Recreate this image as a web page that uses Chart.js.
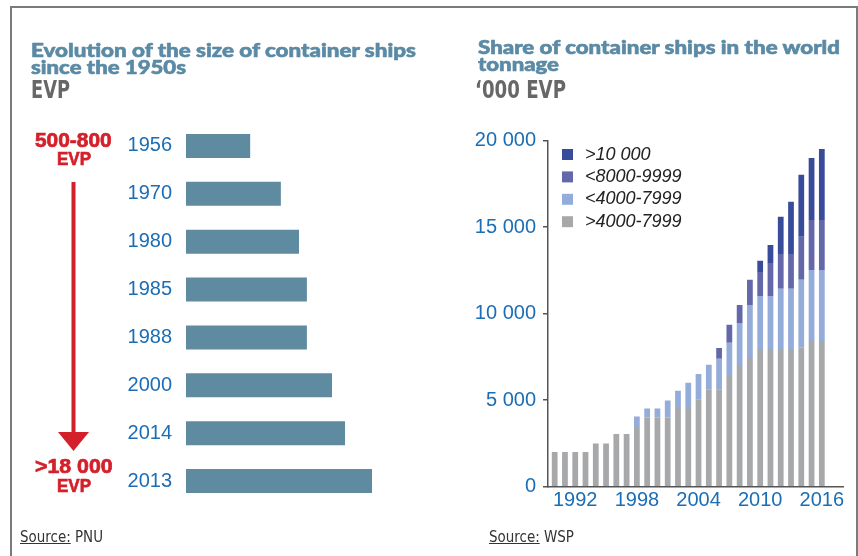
<!DOCTYPE html>
<html><head><meta charset="utf-8">
<script src="https://cdn.jsdelivr.net/npm/chart.js@4.4.1/dist/chart.umd.min.js"></script>
<style>
html,body{margin:0;padding:0;background:#fff;width:858px;height:556px;overflow:hidden;}
canvas{position:absolute;left:0;top:0;}
.t{position:absolute;left:0;top:0;white-space:nowrap;transform-origin:0 0;line-height:1;}
.mk{display:inline-block;width:0;height:0;vertical-align:baseline;}
#frame{position:absolute;left:10px;top:6px;width:844px;height:600px;border:2px solid #7b7b7b;border-bottom:none;}
</style></head>
<body>
<div id="frame"></div>
<canvas id="left" width="858" height="556"></canvas>
<canvas id="right" width="858" height="556"></canvas>
<div id="texts"></div>
<script>
// ---------- Data: left chart (ship size evolution) ----------
const shipYears = ['1956', '1970', '1980', '1985', '1988', '2000', '2014', '2013'];
const shipSizes = [138, 204, 243, 260, 260, 314, 342, 400];

// ---------- Data: right chart (world tonnage, '000 EVP) ----------
const years = [1990,1991,1992,1993,1994,1995,1996,1997,1998,1999,2000,2001,2002,2003,2004,2005,2006,2007,2008,2009,2010,2011,2012,2013,2014,2015,2016];
const seriesGrey  = [2000,2000,2000,2000,2500,2500,3050,3050,3450,4000,4000,4000,4600,4600,5050,5600,5600,6400,6980,7440,7960,7960,7960,7960,8020,8420,8420];
const seriesLight = [0,0,0,0,0,0,0,0,600,520,520,980,940,1400,1460,1440,1790,1910,2480,3060,3060,3060,3470,3470,3930,4100,4100];
const seriesMid   = [0,0,0,0,0,0,0,0,0,0,0,0,0,0,0,0,620,1040,1040,1450,1390,1910,2020,2020,2490,2890,2890];
const seriesDark  = [0,0,0,0,0,0,0,0,0,0,0,0,0,0,0,0,0,0,0,0,640,1040,2140,3010,3580,3580,4100];
const seriesLabels = ['>4000-7999', '<4000-7999', '<8000-9999', '>10 000'];
const yTicks = [0, 5000, 10000, 15000, 20000];
const xTickYears = [1992, 1998, 2004, 2010, 2016];

const TICKFONT = "'Liberation Sans', Arial, sans-serif";
const NARROW = "'Liberation Sans Narrow','DejaVu Sans Condensed','Liberation Sans',sans-serif";
const BLUE = '#1b6db5';
const RED = '#d4202a';

// ---------- Left chart ----------
const arrowPlugin = {
  id: 'arrow',
  afterDraw(chart) {
    const c = chart.ctx;
    c.save();
    c.strokeStyle = RED; c.fillStyle = RED; c.lineWidth = 4;
    c.beginPath(); c.moveTo(73.5, 182); c.lineTo(73.5, 433); c.stroke();
    c.beginPath(); c.moveTo(58, 432); c.lineTo(89, 432); c.lineTo(73.5, 451); c.closePath(); c.fill();
    c.restore();
  }
};

Chart.defaults.animation = false;

new Chart(document.getElementById('left'), {
  type: 'bar',
  data: { labels: shipYears, datasets: [{ data: shipSizes, backgroundColor: '#5f8ba1', barPercentage: 0.5, categoryPercentage: 1 }] },
  options: {
    indexAxis: 'y', responsive: false, events: [],
    layout: { padding: { left: 66, right: 486, top: 122, bottom: 51 } },
    plugins: { legend: { display: false }, tooltip: { enabled: false } },
    scales: {
      x: { display: false, min: 0, max: 400 },
      y: {
        afterFit: s => { s.width = 120; },
        grid: { display: false, drawTicks: false }, border: { display: false },
        ticks: { color: BLUE, font: { family: TICKFONT, size: 20 }, padding: 14 }
      }
    }
  },
  plugins: [arrowPlugin]
});

// ---------- Right chart ----------
const colors = ['#a7a8aa', '#94acda', '#6467a9', '#394c99'];
const seriesData = [seriesGrey, seriesLight, seriesMid, seriesDark];

const legendPlugin = {
  id: 'customLegend',
  afterDraw(chart) {
    const c = chart.ctx;
    c.save();
    const ds = chart.data.datasets.slice().reverse();
    ds.forEach((d, i) => {
      const y = 149 + i * 22.4;
      c.fillStyle = d.backgroundColor;
      c.fillRect(562, y, 11, 11);
      c.fillStyle = '#222';
      c.font = "italic 18px 'Liberation Sans', Arial, sans-serif";
      c.textBaseline = 'alphabetic';
      c.fillText(d.label, 585, y + 10.5);
    });
    c.restore();
  }
};

new Chart(document.getElementById('right'), {
  type: 'bar',
  data: {
    datasets: seriesData.map((arr, k) => ({
      label: seriesLabels[k],
      data: years.map((yr, i) => ({ x: yr, y: arr[i] })),
      backgroundColor: colors[k],
      barPercentage: 0.56, categoryPercentage: 1
    }))
  },
  options: {
    responsive: false, events: [],
    layout: { padding: { left: 448, right: 15, top: 140.5, bottom: 39.3 } },
    plugins: { legend: { display: false }, tooltip: { enabled: false } },
    scales: {
      x: {
        type: 'linear', stacked: true, bounds: 'data', offset: false, min: 1989.35, max: 2018.06,
        afterFit: s => { s.height = 30; },
        afterBuildTicks: s => { s.ticks = xTickYears.map(v => ({ value: v })); },
        grid: { display: false, drawTicks: false, offset: false },
        border: { color: '#555', width: 1.5 },
        ticks: { color: BLUE, font: { family: TICKFONT, size: 20 }, padding: 2, callback: v => String(v) }
      },
      y: {
        stacked: true, min: 0, max: 20000,
        afterFit: s => { s.width = 100; },
        afterBuildTicks: s => { s.ticks = yTicks.map(v => ({ value: v })); },
        grid: { drawOnChartArea: false, tickLength: 5, color: '#555', lineWidth: 1.5 },
        border: { color: '#555', width: 1.5 },
        ticks: { color: BLUE, font: { family: TICKFONT, size: 20 }, padding: 7,
          callback: v => v === 0 ? '0' : (v / 1000) + ' 000' }
      }
    }
  },
  plugins: [legendPlugin]
});

// ---------- HTML text (titles, annotations, sources) ----------
const TITLE_FONT = "900 19px Lato, 'Open Sans', sans-serif";
const REDFONT = "900 21px 'Liberation Sans', Arial, sans-serif";
const texts = [
  { html: 'Evolution of the size of container ships', x: 30.7, y: 56.7, w: 385, font: TITLE_FONT, color: '#5b8aa5', stroke: 0.6 },
  { html: 'since the 1950s', x: 30.7, y: 74.3, w: 155, font: TITLE_FONT, color: '#5b8aa5', stroke: 0.6 },
  { html: 'EVP', x: 30.7, y: 98.3, w: 39, font: "bold 24px " + NARROW, color: '#676767' },
  { html: 'Share of container ships in the world', x: 477.7, y: 54, w: 362, font: TITLE_FONT, color: '#5b8aa5', stroke: 0.6 },
  { html: 'tonnage', x: 477.7, y: 70.7, w: 81, font: TITLE_FONT, color: '#5b8aa5', stroke: 0.6 },
  { html: '\u2018000 EVP', x: 475, y: 98.3, w: 91, font: "bold 24px " + NARROW, color: '#676767' },
  { html: '500-800', x: 73.4, y: 146.7, w: 76.7, font: REDFONT, color: RED, center: true, stroke: 0.7 },
  { html: 'EVP', x: 73.7, y: 165, w: 34, font: "900 19px 'Liberation Sans', Arial, sans-serif", color: RED, center: true, stroke: 0.7 },
  { html: '&gt;18 000', x: 73.8, y: 472.7, w: 77.7, font: REDFONT, color: RED, center: true, stroke: 0.7 },
  { html: 'EVP', x: 73.7, y: 491.7, w: 34, font: "900 19px 'Liberation Sans', Arial, sans-serif", color: RED, center: true, stroke: 0.7 },
  { html: '<u>Source:</u> PNU', x: 20, y: 542, w: 83, font: "15px " + NARROW, color: '#333' },
  { html: '<u>Source:</u> WSP', x: 489, y: 542, w: 85, font: "15px " + NARROW, color: '#333' }
];
const holder = document.getElementById('texts');
texts.forEach(s => {
  const d = document.createElement('div');
  d.className = 't';
  d.style.font = s.font; d.style.color = s.color;
  if (s.stroke) d.style.webkitTextStroke = s.stroke + 'px ' + s.color;
  d.innerHTML = s.html;
  const mk = document.createElement('span'); mk.className = 'mk';
  d.appendChild(mk);
  holder.appendChild(d);
  const w = d.getBoundingClientRect().width;
  const base = mk.offsetTop;
  const sx = s.w / w;
  d.style.left = (s.center ? s.x - s.w / 2 : s.x) + 'px';
  d.style.top = (s.y - base) + 'px';
  d.style.transform = 'scaleX(' + sx.toFixed(4) + ')';
});
</script>
</body></html>
